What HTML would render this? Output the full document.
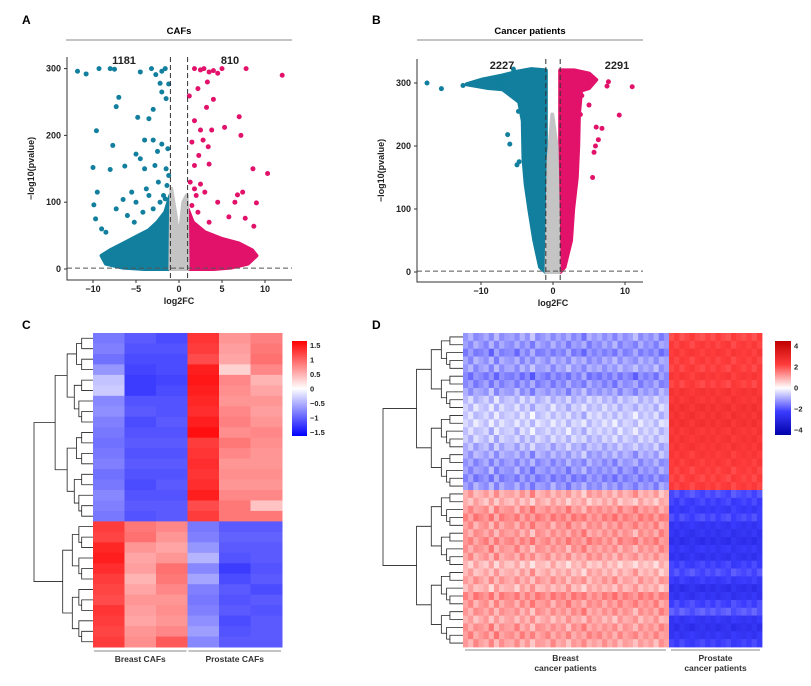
<!DOCTYPE html>
<html><head><meta charset="utf-8">
<style>
html,body{margin:0;padding:0;background:#fff;}
svg{display:block;font-family:"Liberation Sans",Arial,sans-serif;}
</style></head>
<body>
<svg id="fig" width="811" height="686" viewBox="0 0 811 686" xmlns="http://www.w3.org/2000/svg">
<text x="22" y="24" font-size="12" font-weight="bold">A</text>
<text x="372" y="24" font-size="12" font-weight="bold">B</text>
<text x="22" y="329" font-size="12" font-weight="bold">C</text>
<text x="372" y="329" font-size="12" font-weight="bold">D</text>
<text x="179" y="34" font-size="9.5" font-weight="bold" text-anchor="middle">CAFs</text>
<line x1="66" y1="40" x2="292" y2="40" stroke="#888" stroke-width="1"/>
<text x="530" y="34" font-size="9.5" font-weight="bold" text-anchor="middle">Cancer patients</text>
<line x1="417" y1="40" x2="643" y2="40" stroke="#888" stroke-width="1"/>
<g id="volA"></g>
<g id="volB"></g>
<g id="heatC"></g>
<g id="heatD"></g>
</svg>
<script>
// ---------- Volcano A data ----------
const aXTicks=[-10,-5,0,5,10];
const aYTicks=[0,100,200,300];
const aDownX=[-11.8,-10.8,-9.3,-8,-7.5,-7,-7.3,-4.8,-3.5,-3,-2.2,-1.2,-1.5,-9.6,-7.7,-10,-6.3,-8,-9.5,-9.9,-5,-4.5,-3,-2,-2.5,-4,-5.5,-6.5,-7.3,-5,-3.5,-4,-2.8,-1.5,-1.2,-3.2,-2.7,-2,-1.6,-4.5,-2,-9.7,-9,-8.5,-6,-5.2,-4.2,-3.8,-2.4,-1.3,-1.8,-2.2,-1.4,-3,-1.6];
const aDownY=[296,292,300,300,299,257,243,227,225,239,278,277,255,207,185,152,154,149,115,96,172,165,193,187,176,193,115,104,90,100,110,150,155,150,140,300,291,296,300,295,265,75,60,55,80,70,85,120,130,180,110,100,125,90,105];
const aUpX=[1.8,2.5,3.5,4,5,4.5,7.8,12,3.3,2.2,1.2,4,3.2,1.8,7,5.3,2.5,3.8,7.2,1.5,2.8,3.4,2.3,1.8,3.5,8.6,10.3,2.5,3,7.4,6.5,9,4.5,2,5.8,7.7,8.7,6.8,1.3,2.9,1.5,2.2,3.5,1.8];
const aUpY=[300,298,295,297,300,293,300,290,280,270,259,254,242,222,228,212,208,208,200,190,193,183,170,155,157,150,143,127,115,115,100,99,100,110,78,76,64,111,130,300,95,85,70,120];
const aDownEnvX=[-1,-1,-1.6,-2.5,-3.5,-5,-6.5,-8,-9,-8.5,-6.5,-4];
const aDownEnvY=[0,110,85,70,58,48,38,28,20,8,2,0];
const aUpEnvX=[1,1,1.6,3,5,7,8.5,9,8,6,4];
const aUpEnvY=[0,90,70,55,45,38,28,20,8,2,0];
const aNsEnvX=[-1,-0.9,-0.4,0,0.5,0.9,1];
const aNsEnvY=[0,120,80,40,100,110,0];
const aCounts=["1181","810"];
// ---------- Volcano B data ----------
const bXTicks=[-10,0,10];
const bYTicks=[0,100,200,300];
const bDownX=[-17.5,-15.5,-12.5,-6.3,-6,-4.3,-4.8,-4.7,-5,-11,-9.5,-8.5,-7.5,-6.5,-5.5];
const bDownY=[300,291,296,218,203,260,255,175,170,300,305,302,300,296,322];
const bUpX=[9.2,11,7.7,6.8,6,6.3,5.9,5.7,5.5,7.5,4.5,4,5,3.8];
const bUpY=[249,294,302,228,230,210,200,190,150,295,300,280,265,250];
const bDownEnvX=[-1,-1,-3,-5,-7,-10,-12,-9,-7,-4.7,-4.2,-4.1,-3.8,-3.3,-2.6,-1.8];
const bDownEnvY=[0,320,322,318,312,305,298,292,290,270,240,180,140,100,50,8];
const bUpEnvX=[1,1,3,5,6,5,3.9,3.6,3.5,3.3,2.8,2.5,1.6];
const bUpEnvY=[0,320,320,315,305,292,288,250,200,150,100,50,8];
const bNsEnvX=[-0.9,-0.6,-0.1,0.5,0.8];
const bNsEnvY=[0,180,250,200,0];
const bCounts=["2227","2291"];
// ---------- Heatmap C data (30 rows: 18 top cluster, 12 bottom) ----------
const cGroups=["Breast CAFs","Prostate CAFs"];
const cCol1=[-0.9,-0.85,-0.95,-0.7,-0.4,-0.35,-0.8,-0.75,-0.85,-0.9,-0.95,-0.9,-0.85,-0.95,-0.9,-0.8,-0.85,-0.9,1.3,1.25,1.45,1.5,1.4,1.3,1.25,1.2,1.35,1.3,1.25,1.3];
const cCol2=[-1.1,-1.15,-1.2,-1.25,-1.3,-1.3,-1.15,-1.1,-1.2,-1.15,-1.1,-1.15,-1.1,-1.15,-1.2,-1.15,-1.1,-1.15,0.9,0.95,0.7,0.6,0.65,0.5,0.6,0.7,0.65,0.6,0.7,0.75];
const cCol3=[-1.2,-1.15,-1.2,-1.2,-1.25,-1.2,-1.15,-1.15,-1.1,-1.15,-1.1,-1.15,-1.1,-1.15,-1.1,-1.15,-1.1,-1.1,0.8,0.7,0.6,0.7,0.95,0.9,0.8,0.7,0.75,0.7,0.8,1.1];
const cCol4=[1.35,1.3,1.2,1.5,1.55,1.5,1.45,1.4,1.5,1.6,1.3,1.35,1.4,1.35,1.4,1.5,1.2,1.3,-0.9,-0.85,-0.7,-0.5,-0.8,-0.6,-0.85,-0.9,-0.85,-0.75,-0.65,-0.8];
const cCol5=[0.7,0.65,0.6,0.3,0.8,0.75,0.7,0.8,0.85,0.75,0.9,0.8,0.7,0.75,0.7,0.8,0.9,0.9,-1.1,-1.05,-1.1,-1.15,-1.3,-1.2,-1.1,-1.15,-1.1,-1.2,-1.15,-1.1];
const cCol6=[0.85,0.9,0.95,0.8,0.5,0.6,0.7,0.65,0.7,0.8,0.75,0.7,0.7,0.75,0.7,0.8,0.4,0.9,-1.1,-1.05,-1.1,-1.1,-1.15,-1.1,-1.2,-1.1,-1.15,-1.1,-1.1,-1.1];
const cLegendTicks=[1.5,1,0.5,0,-0.5,-1,-1.5];
// ---------- Heatmap D data (40 rows: 20 top, 20 bottom) ----------
const dGroups=["Breast|cancer patients","Prostate|cancer patients"];
const dBreastRows=[-1,-1.1,-1.2,-1,-0.9,-1.3,-1.1,-1,-0.6,-0.6,-0.5,-0.5,-0.5,-0.6,-0.7,-0.9,-1,-1.1,-1.2,-1.1,0.9,0.7,1.1,1.2,1.1,1,1.2,1,1,0.6,0.8,0.9,0.8,1.2,1.1,1,0.9,1,1.1,0.9];
const dProstRows=[1.9,2,2.1,2,2,2.1,2,2.2,2.2,2.3,2.3,2.3,2.2,2.2,2.2,2.1,2.1,2,2,2,-1.8,-2,-2.1,-1.9,-2.2,-2.3,-2.4,-2.2,-2.3,-2,-1.8,-2.1,-2.4,-2.3,-1.9,-1.7,-2.2,-2.4,-2.2,-2];
const dBreastColDev=[0.2,-0.3,0.4,0.1,-0.2,0.5,-0.4,0.3,0,-0.1,0.4,-0.3,0.2,-0.5,0.3,0.1,-0.2,0.4,-0.1,0.2,-0.4,0.3,0,0.5,-0.3,0.1,-0.2,0.3,-0.1,0.4,-0.3,0.2,0,-0.4,0.3,-0.1,0.2,-0.3,0.4,0.1];
const dProstColDev=[0.2,-0.2,0.3,0,-0.3,0.1,0.3,-0.1,0.2,-0.2,0.1,0.3,-0.3,0,0.2,-0.1,0.3,-0.2];
const dLegendTicks=[4,2,0,-2,-4];

// ---------- helpers ----------
const NS="http://www.w3.org/2000/svg";
function mk(tag,attrs,parent){const e=document.createElementNS(NS,tag);for(const k in attrs)e.setAttribute(k,attrs[k]);parent.appendChild(e);return e;}

function volcano(g,o){
  const sx=v=>o.x0+(v-o.xmin)/(o.xmax-o.xmin)*(o.x1-o.x0);
  const sy=v=>o.yb-(v-o.ymin)/(o.ymax-o.ymin)*(o.yb-o.yt);
  const BLUE="#117f9d",RED="#e2126a",GREY="#c4c4c4";
  function env(xs,ys,col,name){
    const p=mk('polygon',{points:xs.map((x,i)=>sx(x)+','+sy(ys[i])).join(' '),fill:col,stroke:col,'stroke-width':4,'stroke-linejoin':'round'},g);
    
    
  }
  env(o.downEnvX,o.downEnvY,BLUE,'down-regulated-cloud');
  env(o.upEnvX,o.upEnvY,RED,'up-regulated-cloud');
  env(o.nsEnvX,o.nsEnvY,GREY,'not-significant-cloud');
  o.downX.forEach((x,i)=>{const c=mk('circle',{cx:sx(x),cy:sy(o.downY[i]),r:2.5,fill:BLUE},g);
    
    });
  o.upX.forEach((x,i)=>{const c=mk('circle',{cx:sx(x),cy:sy(o.upY[i]),r:2.5,fill:RED},g);
    
    });
  [-1,1].forEach(v=>{const l=mk('line',{x1:sx(v),x2:sx(v),y1:o.yt,y2:o.yb,stroke:'#333','stroke-width':1,'stroke-dasharray':'5,3'},g);
    
    });
  const h=mk('line',{x1:o.x0,x2:o.x1,y1:sy(1.3),y2:sy(1.3),stroke:'#555','stroke-width':1,'stroke-dasharray':'5,3'},g);
  
  
  const ax=mk('path',{d:`M${o.x0},${o.yt} V${o.yb} H${o.x1}`,fill:'none',stroke:'#333','stroke-width':1},g);
  
  
  o.xt.forEach(v=>{mk('line',{x1:sx(v),x2:sx(v),y1:o.yb,y2:o.yb+3,stroke:'#333'},g);
    const t=mk('text',{x:sx(v),y:o.yb+12,'font-size':9,'font-weight':'bold','text-anchor':'middle',fill:'#222'},g);t.textContent=v===0?'0':(v<0?'\u2212'+(-v):v);
    
    });
  o.yt2.forEach(v=>{mk('line',{x1:o.x0-3,x2:o.x0,y1:sy(v),y2:sy(v),stroke:'#333'},g);
    const t=mk('text',{x:o.x0-6,y:sy(v)+3,'font-size':9,'font-weight':'bold','text-anchor':'end',fill:'#222'},g);t.textContent=v;
    
    });
  const xl=mk('text',{x:sx(0),y:o.yb+24,'font-size':9,'font-weight':'bold','text-anchor':'middle',fill:'#222'},g);xl.textContent='log2FC';
  
  
  const cy=(o.yt+o.yb)/2;
  const yl=mk('text',{x:o.x0-33,y:cy,'font-size':9,'font-weight':'bold','text-anchor':'middle',fill:'#222',transform:`rotate(-90 ${o.x0-33} ${cy})`},g);yl.textContent='\u2212log10(pvalue)';
  
  
  const c1=mk('text',{x:o.c1x,y:o.cy,'font-size':11,'font-weight':'bold','text-anchor':'middle',fill:'#222'},g);c1.textContent=o.counts[0];
  
  
  const c2=mk('text',{x:o.c2x,y:o.cy,'font-size':11,'font-weight':'bold','text-anchor':'middle',fill:'#222'},g);c2.textContent=o.counts[1];
  
  
}
volcano(document.getElementById('volA'),{x0:67,x1:292,xmin:(67-179)/8.6,xmax:(292-179)/8.6,yt:57,yb:280,ymin:-(280-269)/0.668,ymax:(269-57)/0.668,
  xt:aXTicks,yt2:aYTicks,downX:aDownX,downY:aDownY,upX:aUpX,upY:aUpY,downEnvX:aDownEnvX,downEnvY:aDownEnvY,upEnvX:aUpEnvX,upEnvY:aUpEnvY,nsEnvX:aNsEnvX,nsEnvY:aNsEnvY,counts:aCounts,c1x:124,c2x:230,cy:64});
volcano(document.getElementById('volB'),{x0:417,x1:643,xmin:(417-553)/7.2,xmax:(643-553)/7.2,yt:59,yb:282,ymin:-(282-272)/0.63,ymax:(272-59)/0.63,
  xt:bXTicks,yt2:bYTicks,downX:bDownX,downY:bDownY,upX:bUpX,upY:bUpY,downEnvX:bDownEnvX,downEnvY:bDownEnvY,upEnvX:bUpEnvX,upEnvY:bUpEnvY,nsEnvX:bNsEnvX,nsEnvY:bNsEnvY,counts:bCounts,c1x:502,c2x:617,cy:69});

function lerp(a,b,t){return Math.round(a+(b-a)*t);}
function scaleC(v){const t=Math.max(-1,Math.min(1,v/1.7));
  if(t>=0)return `rgb(255,${lerp(255,0,t)},${lerp(255,0,t)})`;return `rgb(${lerp(255,0,-t)},${lerp(255,0,-t)},255)`;}
function scaleD(v){const t=Math.max(-1,Math.min(1,v/4));
  if(t>=0){if(t<0.5){const u=t/0.5;return `rgb(255,${lerp(255,60,u)},${lerp(255,60,u)})`;}const u=(t-0.5)/0.5;return `rgb(${lerp(255,190,u)},${lerp(60,0,u)},${lerp(60,0,u)})`;}
  const s=-t;if(s<0.5){const u=s/0.5;return `rgb(${lerp(255,60,u)},${lerp(255,60,u)},255)`;}const u=(s-0.5)/0.5;return `rgb(${lerp(60,0,u)},${lerp(60,0,u)},${lerp(255,170,u)})`;}

function dendro(g,y0,y1,n,xLeaf,xRoot,splitAt){
  const rh=(y1-y0)/n;
  function build(a,b){
    if(b-a===1){return [y0+(a+0.5)*rh,xLeaf];}
    const m=(a===0&&b===n&&splitAt)?splitAt:Math.floor((a+b)/2);
    const L=build(a,m),R=build(m,b);
    const span=(b-a)/n;
    const x=xLeaf-(xLeaf-xRoot)*Math.pow(span,0.55)*((a===0&&b===n)?1:0.85);
    mk('path',{d:`M${L[1]},${L[0]} H${x} V${R[0]} H${R[1]}`,fill:'none',stroke:'#222','stroke-width':0.8},g);
    return [(L[0]+R[0])/2,x];
  }
  build(0,n);
}

// ---------- Heatmap C ----------
(function(){
  const g=document.getElementById('heatC');
  const cols=[cCol1,cCol2,cCol3,cCol4,cCol5,cCol6];
  const x0=93,x1=282,y0=333,y1=647,n=cCol1.length,cw=(x1-x0)/cols.length,rh=(y1-y0)/n;
  cols.forEach((col,j)=>col.forEach((v,i)=>{
    const r=mk('rect',{x:x0+j*cw,y:y0+i*rh,width:cw+0.5,height:rh+0.5,fill:scaleC(v)},g);
    
    
  }));
  const dg=mk('g',{},g);
  dendro(dg,y0,y1,n,x0,34,18);
  const defs=mk('defs',{},g);const lg=mk('linearGradient',{id:'gc',x1:0,y1:0,x2:0,y2:1},defs);
  [[0,'#ff0000'],[0.5,'#ffffff'],[1,'#0000ff']].forEach(s=>mk('stop',{offset:s[0],'stop-color':s[1]},lg));
  const lr=mk('rect',{x:292,y:341,width:15,height:95,fill:'url(#gc)'},g);
  
  cLegendTicks.forEach(v=>{const y=388.5-v/1.8*52;const t=mk('text',{x:310,y:y+3,'font-size':7.5,'font-weight':'bold',fill:'#222'},g);t.textContent=v<0?'\u2212'+(-v):v;
    });
  cGroups.forEach((name,k)=>{const a=x0+k*3*cw+1,b=a+3*cw-2;
    const l=mk('line',{x1:a,x2:b,y1:651,y2:651,stroke:'#888','stroke-width':1},g);
    
    const t=mk('text',{x:(a+b)/2,y:662,'font-size':8.5,'font-weight':'bold','text-anchor':'middle',fill:'#333'},g);t.textContent=name;
    });
})();

// ---------- Heatmap D ----------
(function(){
  const g=document.getElementById('heatD');
  const x0=463,xs=669,x1=762,y0=333,y1=647,n=dBreastRows.length,rh=(y1-y0)/n;
  const bw=(xs-x0)/dBreastColDev.length,pw=(x1-xs)/dProstColDev.length;
  dBreastRows.forEach((rv,i)=>{dBreastColDev.forEach((d,j)=>{
    const v=rv+d*0.45*(1+((i*7+j*3)%5)/4)*(i%2?1:-1);
    const r=mk('rect',{x:x0+j*bw,y:y0+i*rh,width:bw+0.4,height:rh+0.4,fill:scaleD(v)},g);
    
    });});
  dProstRows.forEach((rv,i)=>{dProstColDev.forEach((d,j)=>{
    const v=rv+d*0.5*(i%2?1:-1);
    const r=mk('rect',{x:xs+j*pw,y:y0+i*rh,width:pw+0.4,height:rh+0.4,fill:scaleD(v)},g);
    
    });});
  const dg=mk('g',{},g);
  dendro(dg,y0,y1,n,x0,383,20);
  const defs=mk('defs',{},g);const lg=mk('linearGradient',{id:'gd',x1:0,y1:0,x2:0,y2:1},defs);
  [[0,'#c00000'],[0.25,'#ff3c3c'],[0.5,'#ffffff'],[0.75,'#3c3cff'],[1,'#0000aa']].forEach(s=>mk('stop',{offset:s[0],'stop-color':s[1]},lg));
  const lr=mk('rect',{x:775,y:341,width:16,height:94,fill:'url(#gd)'},g);
  
  dLegendTicks.forEach(v=>{const y=387.5-v/4*42;const t=mk('text',{x:794,y:y+3,'font-size':7.5,'font-weight':'bold',fill:'#222'},g);t.textContent=v<0?'\u2212'+(-v):v;
    });
  [[x0+2,xs-3],[xs+2,x1-2]].forEach((ab,k)=>{
    const l=mk('line',{x1:ab[0],x2:ab[1],y1:650,y2:650,stroke:'#888','stroke-width':1},g);
    
    const parts=dGroups[k].split('|');
    parts.forEach((p,m)=>{const t=mk('text',{x:(ab[0]+ab[1])/2,y:661+m*10,'font-size':8.5,'font-weight':'bold','text-anchor':'middle',fill:'#333'},g);t.textContent=p;
      });
  });
})();
</script>
</body></html>
